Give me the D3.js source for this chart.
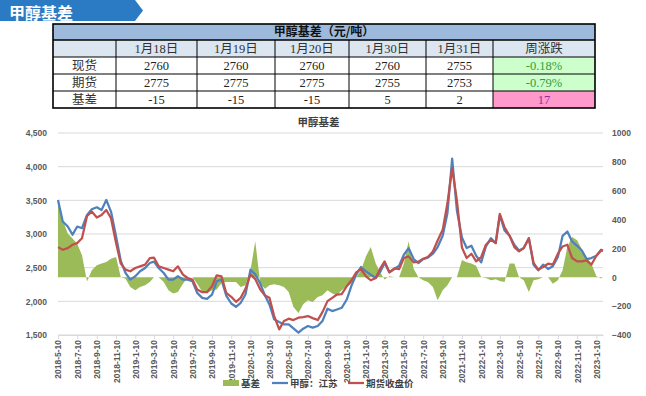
<!DOCTYPE html>
<html>
<head>
<meta charset="utf-8">
<script src="https://cdn.jsdelivr.net/npm/d3@7"></script>
<style>
body { margin: 0; background: #fff; }
svg text { font-family: "Liberation Sans", "Noto Sans CJK SC", sans-serif; }
</style>
</head>
<body>
<script>
(function () {
//Table data
    var tableDates = ["1月18日", "1月19日", "1月20日", "1月30日", "1月31日"];
    var rowNames = ["现货", "期货", "基差"];
    var spotRow = [2760, 2760, 2760, 2760, 2755];
    var futRow = [2775, 2775, 2775, 2755, 2753];
    var basisRow = [-15, -15, -15, 5, 2];
    var weekChange = ["-0.18%", "-0.79%", "17"];

//Chart data, sampled twice a month
    var dates = [
        "2018-05-10","2018-05-25","2018-06-10","2018-06-25","2018-07-10","2018-07-25","2018-08-10","2018-08-25","2018-09-10","2018-09-25","2018-10-10","2018-10-25","2018-11-10","2018-11-25","2018-12-10","2018-12-25",
        "2019-01-10","2019-01-25","2019-02-10","2019-02-25","2019-03-10","2019-03-25","2019-04-10","2019-04-25","2019-05-10","2019-05-25","2019-06-10","2019-06-25","2019-07-10","2019-07-25","2019-08-10","2019-08-25","2019-09-10","2019-09-25","2019-10-10","2019-10-25","2019-11-10","2019-11-25","2019-12-10","2019-12-25",
        "2020-01-10","2020-01-25","2020-02-10","2020-02-25","2020-03-10","2020-03-25","2020-04-10","2020-04-25","2020-05-10","2020-05-25","2020-06-10","2020-06-25","2020-07-10","2020-07-25","2020-08-10","2020-08-25","2020-09-10","2020-09-25","2020-10-10","2020-10-25","2020-11-10","2020-11-25","2020-12-10","2020-12-25",
        "2021-01-10","2021-01-25","2021-02-10","2021-02-25","2021-03-10","2021-03-25","2021-04-10","2021-04-25","2021-05-10","2021-05-25","2021-06-10","2021-06-25","2021-07-10","2021-07-25","2021-08-10","2021-08-25","2021-09-10","2021-09-25","2021-10-10","2021-10-25","2021-11-10","2021-11-25","2021-12-10","2021-12-25",
        "2022-01-10","2022-01-25","2022-02-10","2022-02-25","2022-03-10","2022-03-25","2022-04-10","2022-04-25","2022-05-10","2022-05-25","2022-06-10","2022-06-25","2022-07-10","2022-07-25","2022-08-10","2022-08-25","2022-09-10","2022-09-25","2022-10-10","2022-10-25","2022-11-10","2022-11-25","2022-12-10","2022-12-25",
        "2023-01-10","2023-01-25","2023-01-31"
    ];
    var spot = [
        3505,3185,3111,2988,3111,3086,3283,3367,3397,3357,3505,3333,2963,2600,2421,2323,
        2372,2446,2495,2569,2590,2495,2421,2323,2323,2372,2323,2323,2298,2126,2052,2037,2101,2298,2323,2086,1968,1919,1978,2101,
        2470,2400,2264,2086,1953,1732,1692,1657,1657,1598,1535,1594,1633,1609,1633,1707,1890,1855,1879,1904,2027,2234,2397,2510,
        2446,2397,2347,2446,2569,2431,2480,2530,2692,2791,2628,2569,2628,2648,2707,2806,2973,3308,4120,3350,2950,2791,2825,2677,
        2579,2815,2938,2865,3280,3052,2973,2840,2756,2791,2938,2544,2461,2544,2480,2520,2658,2973,3037,2889,2825,2756,2628,2643,
        2677,2766,2755
    ];
    var futures = [
        2805,2766,2790,2840,2865,2938,3268,3333,3244,3283,3357,3234,2865,2560,2471,2446,
        2495,2520,2545,2643,2650,2520,2495,2471,2446,2520,2397,2347,2323,2175,2136,2136,2224,2387,2372,2126,2067,1993,2052,2185,
        2400,2330,2175,2086,2052,1781,1584,1707,1742,1722,1757,1767,1781,1751,1722,1840,2003,2052,2101,2106,2224,2313,2431,2480,
        2372,2313,2347,2495,2594,2431,2490,2480,2643,2668,2579,2589,2633,2658,2741,2904,3062,3456,3980,3500,2800,2643,2707,2594,
        2658,2840,2914,2865,3300,3101,2973,2806,2741,2791,2938,2569,2471,2510,2559,2545,2707,2815,2840,2643,2594,2594,2608,2544,
        2677,2756,2753
    ];
    var basis = [
        520,395,303,268,233,152,-30,49,83,95,106,129,141,0,-10,-67,
        -90,-67,-55,-32,0,0,-32,-90,-113,-102,-44,0,0,-44,-100,-110,-90,-85,-39,-32,-32,-32,-67,-55,
        49,250,-44,-79,-55,-49,-55,-67,-102,-206,-247,-187,-159,-171,-136,-125,-90,-113,-125,-90,-62,-44,0,49,
        146,210,95,30,-16,7,0,0,95,250,60,0,-21,-32,-67,-160,-90,-55,0,0,120,105,95,80,
        0,-5,-21,-14,-25,-32,95,95,0,-21,-102,-21,-14,0,0,-44,-21,49,210,280,256,192,136,95,
        7,-9,2
    ];

//Axis ticks
    var tickLabels = ["2018-5-10","2018-7-10","2018-9-10","2018-11-10","2019-1-10","2019-3-10","2019-5-10","2019-7-10","2019-9-10","2019-11-10",
        "2020-1-10","2020-3-10","2020-5-10","2020-7-10","2020-9-10","2020-11-10","2021-1-10","2021-3-10","2021-5-10","2021-7-10","2021-9-10",
        "2021-11-10","2022-1-10","2022-3-10","2022-5-10","2022-7-10","2022-9-10","2022-11-10","2023-1-10"];
    var leftTicks = [1500, 2000, 2500, 3000, 3500, 4000, 4500];
    var rightTicks = [-400, -200, 0, 200, 400, 600, 800, 1000];
    var seriesNames = ["基差", "甲醇：江苏", "期货收盘价"];
    var colors = ["#9bbb59", "#4f81bd", "#c0504d"];

    var parseDate = d3.timeParse("%Y-%m-%d");

    var svg = d3.select("body")
        .append("svg")
        .attr("width", 646)
        .attr("height", 396);

//Banner
    svg.append("path")
        .attr("d", "M0,0H135L143,10.5L135,21H0Z")
        .attr("fill", "#2b7bc4");
    svg.append("text")
        .attr("x", 9)
        .attr("y", 19)
        .attr("fill", "#fff")
        .style("font-family", "'Noto Sans CJK SC'")
        .style("font-size", "16px")
        .style("font-weight", "bold")
        .text("甲醇基差");

    drawTable();
    drawChart();

//Table above the chart
    function drawTable() {
        var colX = [53, 116, 197, 275, 349, 426, 493, 595],
            rowY = [24, 40, 57, 74, 91, 108];
        var tableFont = "'Liberation Serif', 'Noto Sans CJK SC', serif";
        var table = svg.append("g").attr("class", "table");

        table.append("rect")
            .attr("x", colX[0]).attr("y", rowY[0])
            .attr("width", colX[7] - colX[0]).attr("height", rowY[1] - rowY[0])
            .attr("fill", "#9db9dc");
        table.append("rect")
            .attr("x", colX[0]).attr("y", rowY[1])
            .attr("width", colX[7] - colX[0]).attr("height", rowY[2] - rowY[1])
            .attr("fill", "#dce6f1");

        var changeFills = ["#ccffcc", "#ccffcc", "#ff99cc"];
        changeFills.forEach(function (c, i) {
            table.append("rect")
                .attr("x", colX[6]).attr("y", rowY[i + 2])
                .attr("width", colX[7] - colX[6]).attr("height", rowY[i + 3] - rowY[i + 2])
                .attr("fill", c);
        });

//Cell borders
        for (var r = 1; r < rowY.length - 1; r++) {
            table.append("line")
                .attr("x1", colX[0]).attr("x2", colX[7])
                .attr("y1", rowY[r]).attr("y2", rowY[r])
                .attr("stroke", "#000").attr("stroke-width", r == 1 ? 1.3 : 1);
        }
        for (var c = 1; c < colX.length - 1; c++) {
            table.append("line")
                .attr("x1", colX[c]).attr("x2", colX[c])
                .attr("y1", rowY[1]).attr("y2", rowY[5])
                .attr("stroke", "#000").attr("stroke-width", 1);
        }
        table.append("rect")
            .attr("x", colX[0]).attr("y", rowY[0])
            .attr("width", colX[7] - colX[0]).attr("height", rowY[5] - rowY[0])
            .attr("fill", "none").attr("stroke", "#000").attr("stroke-width", 1.6);

        table.append("text")
            .attr("x", (colX[0] + colX[7]) / 2).attr("y", rowY[0] + 12)
            .attr("text-anchor", "middle")
            .style("font-family", "'Noto Sans CJK SC'")
            .style("font-size", "12px").style("font-weight", "bold")
            .attr("fill", "#111")
            .text("甲醇基差（元/吨）");

        var header = tableDates.concat(["周涨跌"]);
        header.forEach(function (h, i) {
            table.append("text")
                .attr("x", (colX[i + 1] + colX[i + 2]) / 2).attr("y", rowY[1] + 12.5)
                .attr("text-anchor", "middle")
                .style("font-family", tableFont).style("font-size", "12.5px")
                .attr("fill", "#333")
                .text(h);
        });

        var rows = [spotRow, futRow, basisRow];
        var changeColors = ["#2e9e3e", "#2e9e3e", "#8e2f9e"];
        rows.forEach(function (row, r) {
            var y = rowY[r + 2] + 13;
            table.append("text")
                .attr("x", (colX[0] + colX[1]) / 2).attr("y", y)
                .attr("text-anchor", "middle")
                .style("font-family", tableFont).style("font-size", "12.5px")
                .attr("fill", "#333")
                .text(rowNames[r]);
            row.forEach(function (v, i) {
                table.append("text")
                    .attr("x", (colX[i + 1] + colX[i + 2]) / 2).attr("y", y)
                    .attr("text-anchor", "middle")
                    .style("font-family", tableFont).style("font-size", "12.5px")
                    .attr("fill", "#222")
                    .text(v);
            });
            table.append("text")
                .attr("x", (colX[6] + colX[7]) / 2).attr("y", y)
                .attr("text-anchor", "middle")
                .style("font-family", tableFont).style("font-size", "12.5px")
                .attr("fill", changeColors[r])
                .text(weekChange[r]);
        });
    }

//Line and area chart
    function drawChart() {
        var left = 58, right = 603, top = 133, bottom = 335;
        var points = dates.map(function (d, i) {
            return { date: parseDate(d), spot: spot[i], fut: futures[i], basis: basis[i] };
        });

        var x = d3.scaleTime()
            .domain([parseDate("2018-05-10"), parseDate("2023-01-31")])
            .range([left, right]);
        var yL = d3.scaleLinear().domain([1500, 4500]).range([bottom, top]);
        var yR = d3.scaleLinear().domain([-400, 1000]).range([bottom, top]);

        var chart = svg.append("g").attr("class", "chart");

//Gridlines from the left axis
        chart.selectAll(".grid")
            .data(leftTicks)
            .enter()
            .append("line")
            .attr("class", "grid")
            .attr("x1", left).attr("x2", right)
            .attr("y1", function (d) { return yL(d); })
            .attr("y2", function (d) { return yL(d); })
            .attr("stroke", "#d9d9d9").attr("stroke-width", 1);

//Basis area on the right axis
        var area = d3.area()
            .x(function (d) { return x(d.date); })
            .y0(yR(0))
            .y1(function (d) { return yR(d.basis); });
        chart.append("path")
            .datum(points)
            .attr("d", area)
            .attr("fill", colors[0]);

        var spotLine = d3.line()
            .x(function (d) { return x(d.date); })
            .y(function (d) { return yL(d.spot); });
        var futLine = d3.line()
            .x(function (d) { return x(d.date); })
            .y(function (d) { return yL(d.fut); });

        chart.append("path")
            .datum(points)
            .attr("d", spotLine)
            .attr("fill", "none").attr("stroke", colors[1])
            .attr("stroke-width", 2.25).attr("stroke-linejoin", "round");
        chart.append("path")
            .datum(points)
            .attr("d", futLine)
            .attr("fill", "none").attr("stroke", colors[2])
            .attr("stroke-width", 2.25).attr("stroke-linejoin", "round");

//Axes
        var xAxis = d3.axisBottom(x)
            .tickValues(tickLabels.map(function (t) { return parseDate(t); }))
            .tickFormat(function (d, i) { return tickLabels[i]; })
            .tickSize(4)
            .tickSizeOuter(0);
        var gx = chart.append("g")
            .attr("transform", "translate(0," + bottom + ")")
            .call(xAxis);
        gx.select(".domain").attr("stroke", "#d9d9d9");
        gx.selectAll(".tick line").attr("stroke", "#d9d9d9");
        gx.selectAll("text")
            .attr("transform", "rotate(-90)")
            .attr("x", -5).attr("y", 0).attr("dy", "0.35em")
            .style("text-anchor", "end")
            .style("font-size", "8.5px").style("font-weight", "bold")
            .attr("fill", "#595959");

        var gl = chart.append("g")
            .attr("transform", "translate(" + left + ",0)")
            .call(d3.axisLeft(yL).tickValues(leftTicks).tickFormat(d3.format(",")).tickSize(0).tickPadding(11));
        gl.select(".domain").remove();
        gl.selectAll("text")
            .style("font-size", "8.5px").style("font-weight", "bold")
            .attr("fill", "#595959");

        var gr = chart.append("g")
            .attr("transform", "translate(" + right + ",0)")
            .call(d3.axisRight(yR).tickValues(rightTicks).tickFormat(d3.format("d")).tickSize(0).tickPadding(9));
        gr.select(".domain").remove();
        gr.selectAll("text")
            .style("font-size", "8.5px").style("font-weight", "bold")
            .attr("fill", "#595959");

//Title
        chart.append("text")
            .attr("x", 318.5).attr("y", 125.5)
            .attr("text-anchor", "middle")
            .style("font-family", "'Noto Sans CJK SC'")
            .style("font-size", "10.5px").style("font-weight", "bold")
            .attr("fill", "#404040")
            .text("甲醇基差");

//Legend
        var legend = chart.append("g").attr("class", "legend");
        var legendX = [223, 272, 348];
        seriesNames.forEach(function (name, i) {
            if (i == 0) {
                legend.append("rect")
                    .attr("x", legendX[i]).attr("y", 380)
                    .attr("width", 16).attr("height", 6)
                    .attr("fill", colors[i]);
            } else {
                legend.append("line")
                    .attr("x1", legendX[i]).attr("x2", legendX[i] + 16)
                    .attr("y1", 383).attr("y2", 383)
                    .attr("stroke", colors[i]).attr("stroke-width", 2.25);
            }
            legend.append("text")
                .attr("x", legendX[i] + 18).attr("y", 386.5)
                .style("font-family", "'Noto Sans CJK SC'")
                .style("font-size", "9.5px").style("font-weight", "bold")
                .attr("fill", "#404040")
                .text(name);
        });
    }
})();
</script>
</body>
</html>
